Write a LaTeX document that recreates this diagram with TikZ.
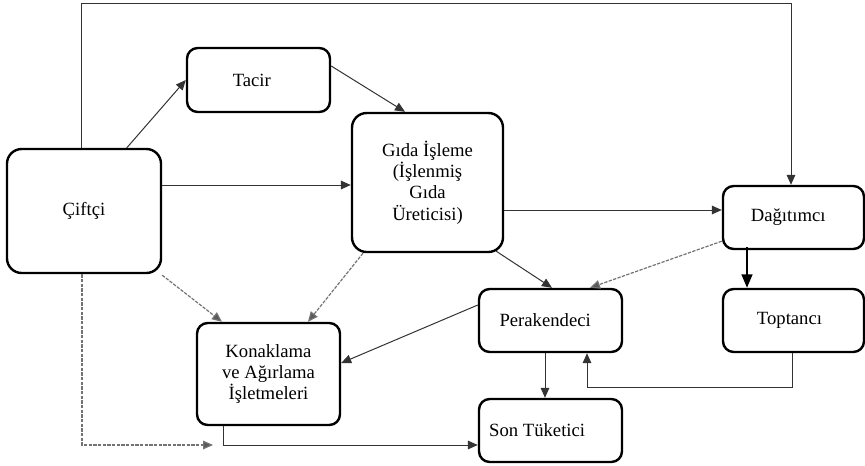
\documentclass[tikz,border=0pt]{standalone}
\usepackage{fontspec}
\setmainfont{Liberation Serif}
\usetikzlibrary{arrows.meta,calc}
\tikzset{
  box/.style={draw=black, line width=1.8pt, rounded corners=8pt, align=center, inner sep=0pt,
    font=\rmfamily\fontsize{14}{16}\selectfont},
  bigbox/.style={box, rounded corners=11pt},
  arr/.style={draw=black!80, line width=0.75pt, -{Triangle[length=7.5pt,width=6.5pt]}},
  darr/.style={draw=black!55, line width=0.9pt, dash pattern=on 2.5pt off 1pt, -{Triangle[length=7.5pt,width=6.5pt,fill=black!65]}},
  tarr/.style={draw=black, line width=1.5pt, -{Triangle[length=10pt,width=8pt]}}
}
\begin{document}
\begin{tikzpicture}[x=0.75pt,y=-0.75pt]
\useasboundingbox (0,0) rectangle (865,465);
\node[bigbox, minimum width=115.5pt, minimum height=93pt] (cift) at (84,211) {Çiftçi};
\node[box, minimum width=107.25pt, minimum height=48pt] (tacir) at (258.5,80) {\hspace*{-10pt}Tacir};
\node[bigbox, minimum width=113.25pt, minimum height=104.25pt] (gida) at (427.5,182.5) {Gıda İşleme\\(İşlenmiş\\Gıda\\Üreticisi)};
\node[box, minimum width=105.75pt, minimum height=47.25pt] (dag) at (793.5,217.5) {\hspace*{-8pt}Dağıtımcı};
\node[box, minimum width=105.75pt, minimum height=47.25pt] (topt) at (793.5,320.5) {\hspace*{-6pt}Toptancı};
\node[box, minimum width=107.25pt, minimum height=47.25pt] (per) at (550.5,320.5) {\hspace*{-8pt}Perakendeci};
\node[box, minimum width=107.25pt, minimum height=47.25pt] (son) at (550.5,430.5) {\hspace*{-20pt}Son Tüketici};
\node[box, minimum width=107.25pt, minimum height=76.5pt] (kon) at (268.5,374) {Konaklama\\ve Ağırlama\\İşletmeleri};
\coordinate (cfend) at (213,445);
% connectors
\draw[arr] ($(cift.north)+(-3,0)$) -- ++(0,-144) -| ($(dag.north)+(-2.5,0)$);
\draw[arr] ($(cift.north west)+(121,0)$) -- (tacir.west);
\draw[arr] ($(tacir.east)+(0,-14)$) -- ($(gida.north)+(-22.5,0)$);
\draw[arr] ($(cift.east)+(0,-26)$) -- ($(gida.west)+(0,2.5)$);
\draw[arr] ($(gida.east)+(0,27.5)$) -- ($(dag.west)+(0,-7.5)$);
\draw[arr] ($(gida.south east)+(-8,-2)$) -- ($(per.north)+(1.5,0)$);
\draw[darr] ($(dag.south west)+(0,-9)$) -- ($(per.north)+(39.5,0)$);
\draw[tarr] ($(dag.south)+(-46.5,-3)$) -- ($(topt.north)+(-46.5,0)$);
\draw[arr] ($(per.west)+(0,-15.5)$) -- ($(kon.east)+(0,-11)$);
\draw[arr] ($(per.south)+(-5.5,0)$) -- ($(son.north)+(-5.5,0)$);
\draw[arr] ($(topt.south)+(-1.5,0)$) -- ++(0,34) -| ($(per.south)+(36.5,0)$);
\draw[arr] ($(kon.south)+(-45.5,0)$) |- ($(son.west)+(0,14.5)$);
\draw[darr] ($(cift.south east)+(0,1)$) -- ($(kon.north)+(-46.5,0)$);
\draw[darr] ($(gida.south)+(-64.5,0)$) -- ($(kon.north)+(39.5,0)$);
\draw[darr] ($(cift.south)+(-2,0)$) |- (cfend);
\end{tikzpicture}
\end{document}
